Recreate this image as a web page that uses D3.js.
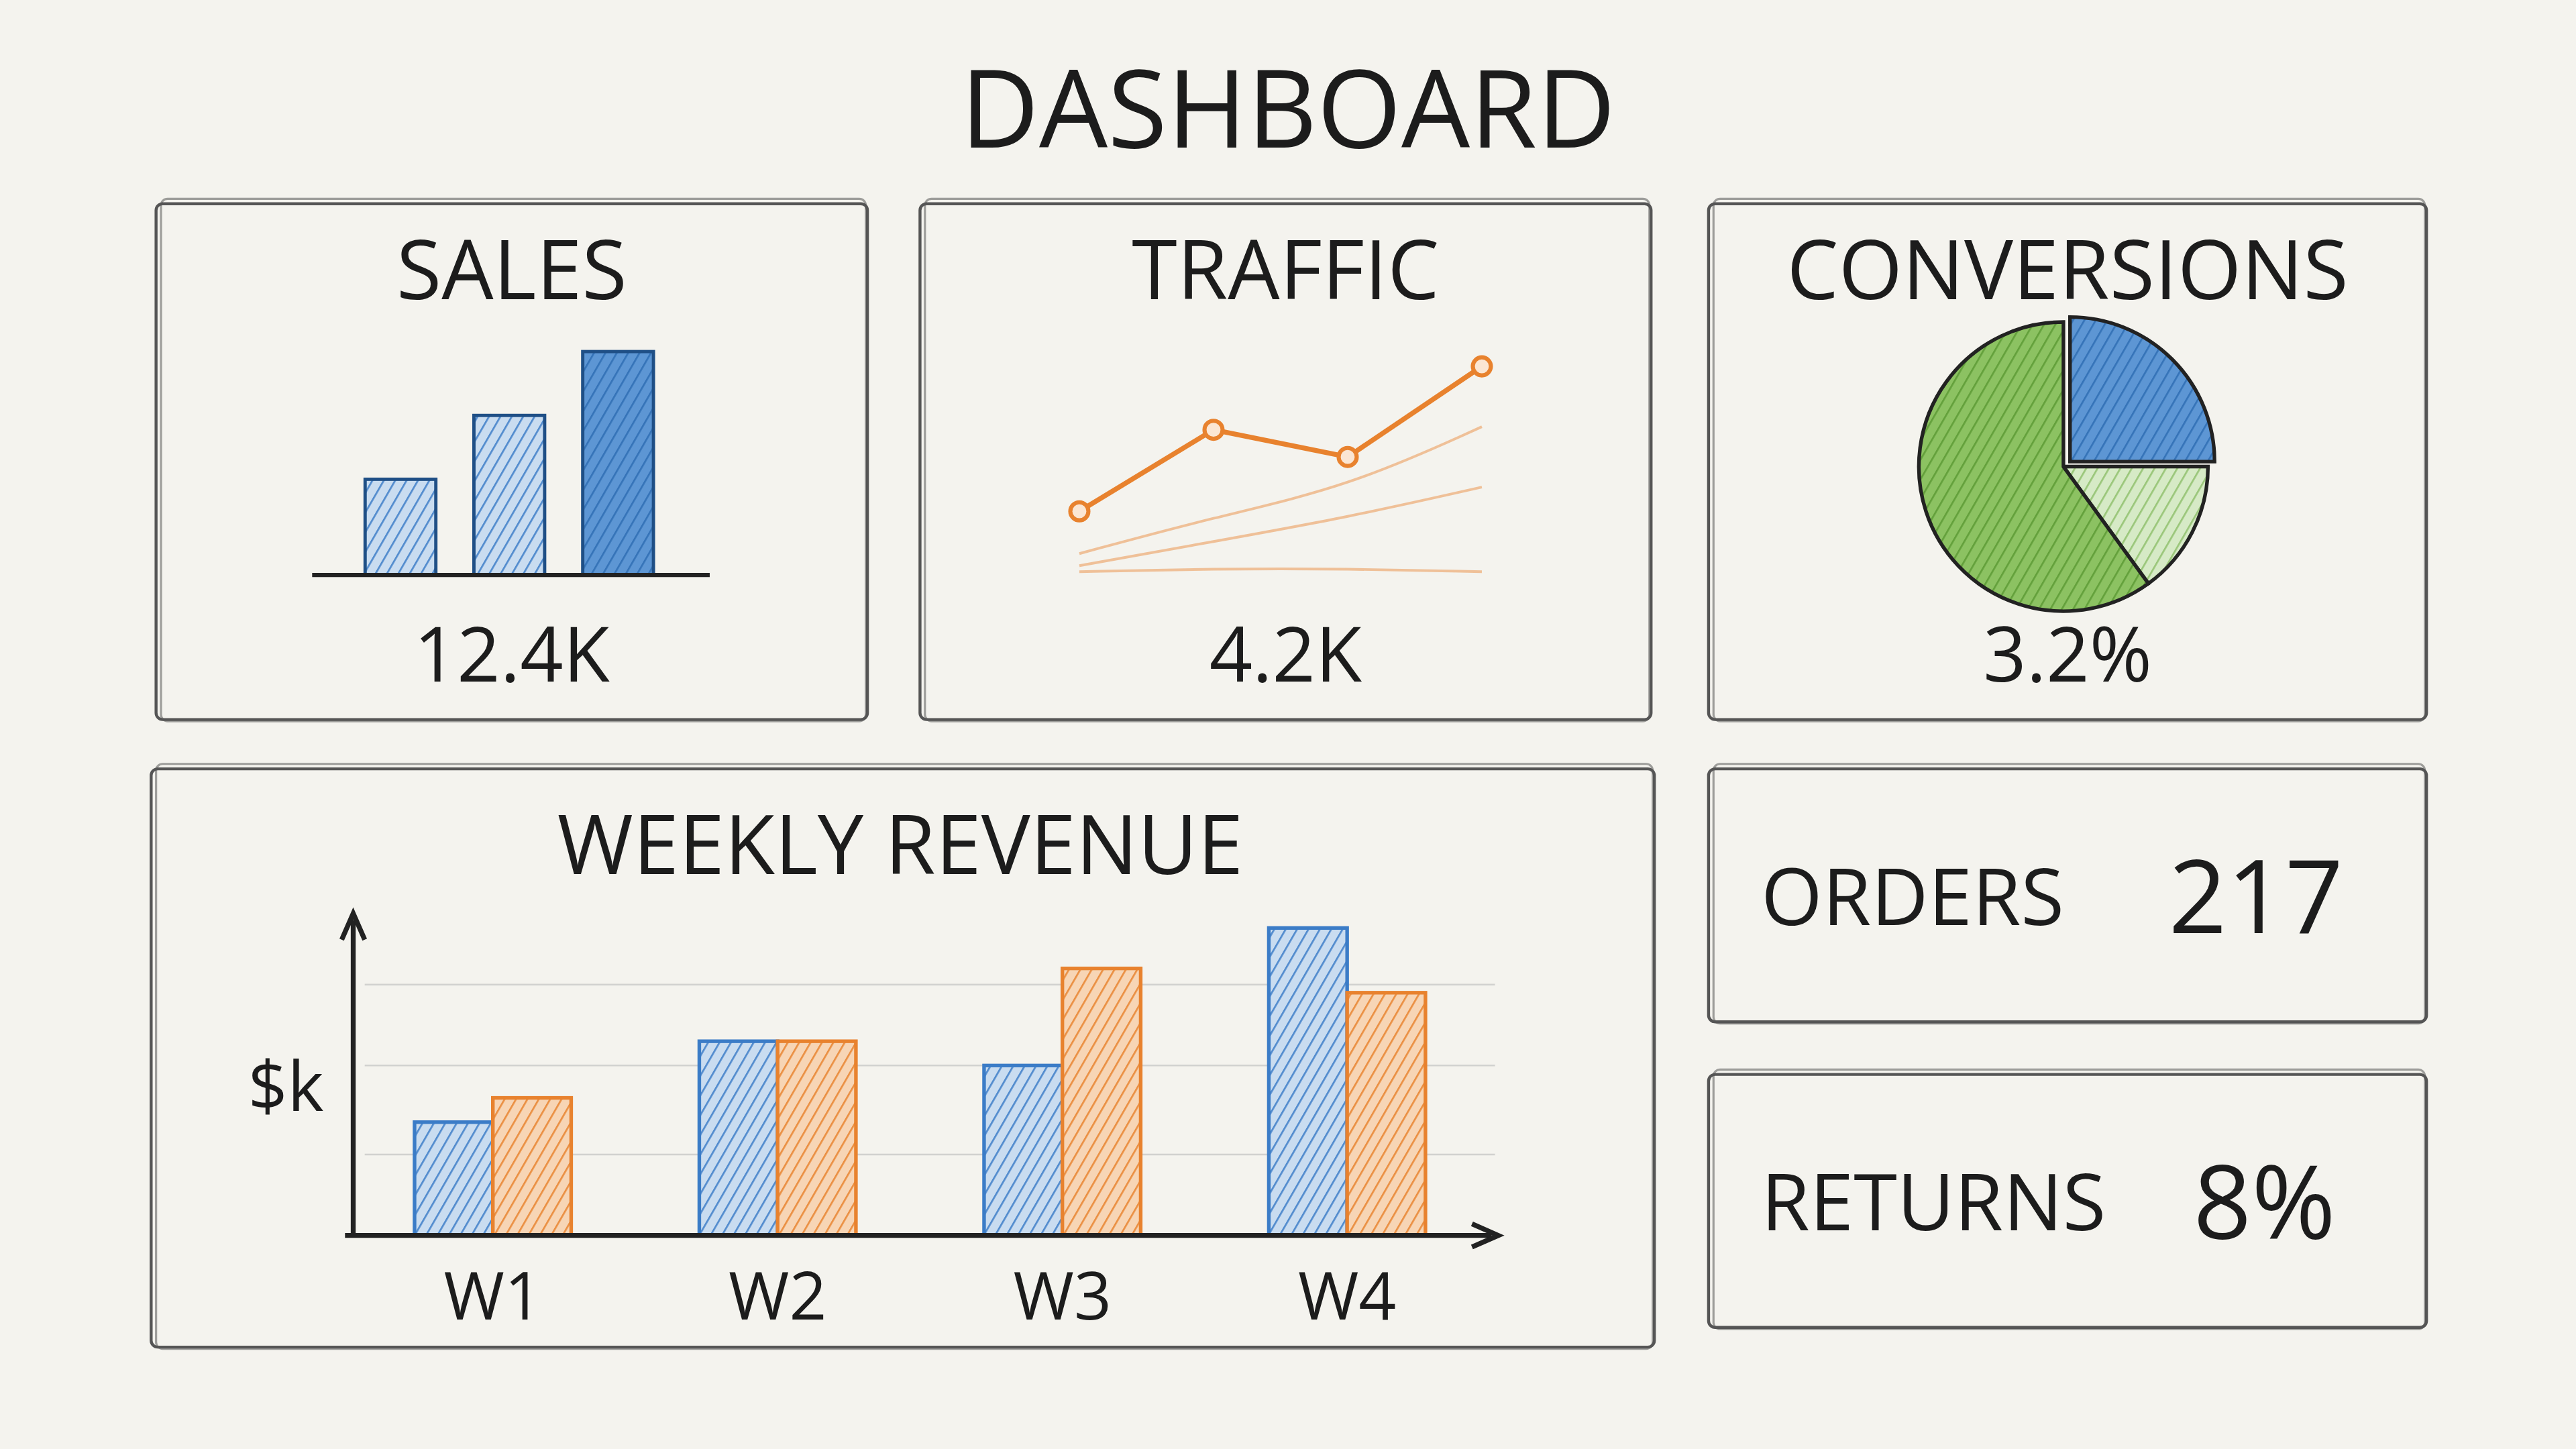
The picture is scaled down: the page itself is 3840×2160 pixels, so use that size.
<!DOCTYPE html>
<html><head><meta charset="utf-8">
<script src="https://cdn.jsdelivr.net/npm/d3@7"></script>
<style>
html,body{margin:0;padding:0;background:#f4f3ee;}
svg{display:block;}
text{font-family:"Open Sans",sans-serif;fill:#1c1c1c;}
</style></head>
<body>
<svg id="c" width="3840" height="2160" viewBox="0 0 1568 882"></svg>
<script>
// data
const salesValues = [3, 5, 7];
const trafficValues = [1.0, 2.35, 1.9, 3.4];
const trafficGhosts = [
  [0.3, 0.9, 1.4, 2.4],
  [0.1, 0.5, 0.9, 1.4],
  [0.0, 0.05, 0.05, 0.0]
];
const conversionShares = [
  { name: "a", value: 25, color: "#3b7cc7" },
  { name: "b", value: 15, color: "#b8d99b" },
  { name: "c", value: 60, color: "#74b044" }
];
const weeks = ["W1", "W2", "W3", "W4"];
const revenueBlue = [14, 24, 21, 38];
const revenueOrange = [17, 24, 33, 30];
const kpis = [
  { label: "SALES", value: "12.4K" },
  { label: "TRAFFIC", value: "4.2K" },
  { label: "CONVERSIONS", value: "3.2%" }
];

const BLUE = "#3b7cc7", ORANGE = "#e8822e", INK = "#222";
const svg = d3.select("#c");
svg.append("rect").attr("width", 1568).attr("height", 882).attr("fill", "#f4f3ee");

// hatch patterns
const defs = svg.append("defs");
function hatch(id, color, bg) {
  const p = defs.append("pattern").attr("id", id).attr("patternUnits", "userSpaceOnUse")
    .attr("width", 6).attr("height", 6).attr("patternTransform", "rotate(30)");
  p.append("rect").attr("width", 6).attr("height", 6).attr("fill", bg);
  p.append("line").attr("x1", 0).attr("y1", 0).attr("x2", 0).attr("y2", 6)
    .attr("stroke", color).attr("stroke-width", 2.2).attr("opacity", 0.85);
}
hatch("hb", BLUE, "#c9dcf0");
hatch("ho", ORANGE, "#f7d5b5");
hatch("hbd", "#2e6db3", "#5d96d4");
hatch("hg", "#5c9a33", "#8cc262");
hatch("hlg", "#8fc06c", "#d6eac6");

function sketchRect(x, y, w, h) {
  const g = svg.append("g").attr("fill", "none").attr("stroke", "#555").attr("stroke-width", 1.8);
  g.append("rect").attr("x", x).attr("y", y).attr("width", w).attr("height", h).attr("rx", 4);
  g.append("rect").attr("x", x + 3).attr("y", y - 3).attr("width", w - 4).attr("height", h + 4)
    .attr("rx", 4).attr("opacity", 0.55).attr("stroke-width", 1.3);
}

svg.append("text").attr("x", 784).attr("y", 90).attr("text-anchor", "middle")
  .attr("font-size", 66).text("DASHBOARD");

const panels = [[95, 124, 433, 314], [560, 124, 445, 314], [1040, 124, 437, 314]];
panels.forEach((p, i) => {
  sketchRect(...p);
  svg.append("text").attr("x", p[0] + p[2] / 2).attr("y", 182).attr("text-anchor", "middle")
    .attr("font-size", 50).text(kpis[i].label);
  svg.append("text").attr("x", p[0] + p[2] / 2).attr("y", 415).attr("text-anchor", "middle")
    .attr("font-size", 46).text(kpis[i].value);
});

// sales bars
const sx = d3.scaleBand().domain(d3.range(3)).range([209, 411]).paddingInner(0.35).paddingOuter(0.2);
const sy = d3.scaleLinear().domain([0, 7]).range([350, 214]);
svg.append("g").selectAll("rect").data(salesValues).join("rect")
  .attr("x", (d, i) => sx(i)).attr("width", sx.bandwidth())
  .attr("y", d => sy(d)).attr("height", d => 350 - sy(d))
  .attr("fill", (d, i) => i === 2 ? "url(#hbd)" : "url(#hb)")
  .attr("stroke", "#1f4f86").attr("stroke-width", 2);
svg.append("line").attr("x1", 190).attr("x2", 432).attr("y1", 350).attr("y2", 350)
  .attr("stroke", INK).attr("stroke-width", 2.5);

// traffic line
const tx = d3.scalePoint().domain(d3.range(4)).range([657, 902]);
const ty = d3.scaleLinear().domain([0, 3.4]).range([348, 223]);
trafficGhosts.forEach(o => {
  svg.append("path").datum(o).attr("fill", "none").attr("stroke", ORANGE)
    .attr("stroke-width", 1.6).attr("opacity", 0.45)
    .attr("d", d3.line().x((d, i) => tx(i)).y(d => ty(d)).curve(d3.curveBasis));
});
svg.append("path").datum(trafficValues).attr("fill", "none").attr("stroke", ORANGE)
  .attr("stroke-width", 3).attr("d", d3.line().x((d, i) => tx(i)).y(d => ty(d)));
svg.append("g").selectAll("circle").data(trafficValues).join("circle")
  .attr("cx", (d, i) => tx(i)).attr("cy", d => ty(d)).attr("r", 5.5)
  .attr("fill", "#fbe6d3").attr("stroke", ORANGE).attr("stroke-width", 2.5);

// pie
const pie = d3.pie().sort(null).value(d => d.value);
const arc = d3.arc().innerRadius(0).outerRadius(88);
const pg = svg.append("g").attr("transform", "translate(1256,284)");
const fills = ["url(#hbd)", "url(#hlg)", "url(#hg)"];
pg.selectAll("path").data(pie(conversionShares)).join("path")
  .attr("d", arc).attr("fill", (d, i) => fills[i])
  .attr("transform", (d, i) => i === 0 ? "translate(4,-3)" : null)
  .attr("stroke", INK).attr("stroke-width", 2.2);

// weekly revenue
sketchRect(92, 468, 915, 352);
svg.append("text").attr("x", 548).attr("y", 532).attr("text-anchor", "middle")
  .attr("font-size", 50).text("WEEKLY REVENUE");
const wx = d3.scaleBand().domain(weeks).range([209, 911]).paddingInner(0.45).paddingOuter(0.25);
const wy = d3.scaleLinear().domain([0, 40]).range([752, 555]);
[10, 21, 31].forEach(v => svg.append("line").attr("x1", 222).attr("x2", 910)
  .attr("y1", wy(v)).attr("y2", wy(v))
  .attr("stroke", "#bbb").attr("stroke-width", 1).attr("opacity", 0.6));
const half = wx.bandwidth() / 2;
svg.append("g").selectAll("rect").data(revenueBlue).join("rect")
  .attr("x", (d, i) => wx(weeks[i])).attr("width", half)
  .attr("y", d => wy(d)).attr("height", d => 752 - wy(d))
  .attr("fill", "url(#hb)").attr("stroke", BLUE).attr("stroke-width", 2.2);
svg.append("g").selectAll("rect").data(revenueOrange).join("rect")
  .attr("x", (d, i) => wx(weeks[i]) + half).attr("width", half)
  .attr("y", d => wy(d)).attr("height", d => 752 - wy(d))
  .attr("fill", "url(#ho)").attr("stroke", ORANGE).attr("stroke-width", 2.2);
svg.append("g").selectAll("text").data(weeks).join("text")
  .attr("x", d => wx(d) + half).attr("y", 803).attr("text-anchor", "middle")
  .attr("font-size", 40).text(d => d);
// axes with arrows
svg.append("line").attr("x1", 215).attr("x2", 215).attr("y1", 752).attr("y2", 560)
  .attr("stroke", INK).attr("stroke-width", 3);
svg.append("path").attr("d", "M208,572 L215,556 L222,572").attr("fill", "none").attr("stroke", INK).attr("stroke-width", 3);
svg.append("line").attr("x1", 210).attr("x2", 908).attr("y1", 752).attr("y2", 752)
  .attr("stroke", INK).attr("stroke-width", 3);
svg.append("path").attr("d", "M896,745 L912,752 L896,759").attr("fill", "none").attr("stroke", INK).attr("stroke-width", 3);
svg.append("text").attr("x", 174).attr("y", 676).attr("text-anchor", "middle")
  .attr("font-size", 42).text("$k");

// orders / returns
[{ y: 468, l: "ORDERS", v: "217", vx: 1320 }, { y: 654, l: "RETURNS", v: "8%", vx: 1335 }].forEach(o => {
  sketchRect(1040, o.y, 437, 154);
  svg.append("text").attr("x", 1072).attr("y", o.y + 95).attr("font-size", 48).text(o.l);
  svg.append("text").attr("x", o.vx).attr("y", o.y + 100).attr("font-size", 62).text(o.v);
});
</script>
</body></html>
